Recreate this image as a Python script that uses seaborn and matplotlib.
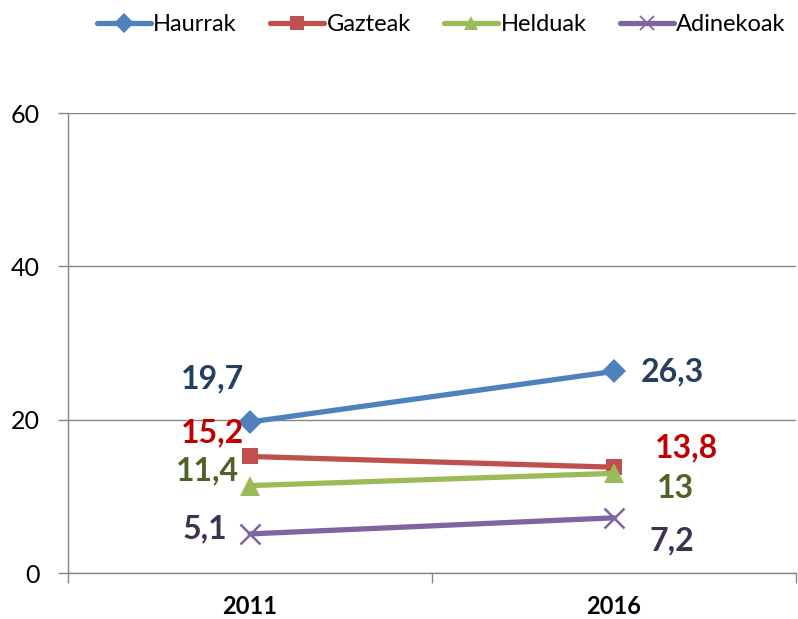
import pandas as pd
import matplotlib.pyplot as plt
import seaborn as sns
from matplotlib.lines import Line2D

# Datuak
urteak = ['2011', '2016']
taldeak = ['Haurrak', 'Gazteak', 'Helduak', 'Adinekoak']
haurrak = [19.7, 26.3]
gazteak = [15.2, 13.8]
helduak = [11.4, 13.0]
adinekoak = [5.1, 7.2]
etiketak = [['19,7', '26,3'], ['15,2', '13,8'], ['11,4', '13'], ['5,1', '7,2']]

sns.set_theme(style='white')
plt.rcParams['font.family'] = ['Lato', 'DejaVu Sans']
plt.rcParams['text.color'] = 'black'

df = pd.DataFrame({
    'x': [0, 1] * 4,
    'balioa': haurrak + gazteak + helduak + adinekoak,
    'taldea': [t for t in taldeak for _ in urteak],
})

koloreak = ['#4F81BD', '#C0504D', '#9BBB59', '#8064A2']
markak = ['D', 's', '^', 'x']
mark_tam = [12, 12, 14, 14]
testu_kol = ['#243F60', '#C00000', '#4F6228', '#3F3151']
# etiketen desplazamenduak (pixeletan)
desp = [[(-37, 43), (58, 0)], [(-37, 24), (73, 19)],
        [(-43, 15), (61, -15)], [(-45, 5), (58, -23)]]

fig = plt.figure(figsize=(7.98, 6.19), dpi=100)
ax = fig.add_axes([0.0852, 0.0743, 0.9123, 0.7431])

for i, t in enumerate(taldeak):
    sns.lineplot(data=df[df['taldea'] == t], x='x', y='balioa', ax=ax,
                 color=koloreak[i], marker=markak[i], markersize=mark_tam[i],
                 markeredgewidth=1.8 if markak[i] == 'x' else 0,
                 markeredgecolor=koloreak[i],
                 linewidth=3.8, legend=False)
    for j in range(2):
        v = df[df['taldea'] == t]['balioa'].values[j]
        ax.annotate(etiketak[i][j], (j, v), xytext=desp[i][j], textcoords='offset pixels',
                    ha='center', va='center', fontsize=23, fontweight='bold',
                    color=testu_kol[i])

ax.set_xlim(-0.5, 1.5)
ax.set_ylim(0, 60)
ax.set_yticks([0, 20, 40, 60])
ax.set_xticks([0, 1])
ax.set_xticklabels(urteak, fontsize=17, fontweight='bold')
ax.set_xticks([-0.5, 0.5, 1.5], minor=True)
ax.tick_params(axis='x', which='major', bottom=False, length=0, pad=16, labelcolor='black')
ax.tick_params(axis='x', which='minor', bottom=True, length=7, color='#868686', width=1, direction='out')
ax.tick_params(axis='y', left=True, length=7, color='#868686', width=1, direction='out',
               labelsize=18, pad=13, labelcolor='black')
ax.set_xlabel('')
ax.set_ylabel('')
ax.yaxis.grid(True, color='#868686', linewidth=1)
ax.set_axisbelow(True)
for s in ['top', 'right']:
    ax.spines[s].set_visible(False)
for s in ['left', 'bottom']:
    ax.spines[s].set_color('#868686')
    ax.spines[s].set_linewidth(1)

# legenda
h = [Line2D([], [], color=koloreak[i], marker=markak[i], markersize=10,
            markeredgewidth=1.3 if markak[i] == 'x' else 0, markeredgecolor=koloreak[i],
            linewidth=3.8) for i in range(4)]
fig.legend(h, taldeak, loc='upper center', bbox_to_anchor=(0.553, 1.0), ncol=4, frameon=False,
           fontsize=17, handlelength=2.3, handletextpad=0.1, columnspacing=1.4,
           borderaxespad=0.2)

fig.savefig('out.png', dpi=100)
